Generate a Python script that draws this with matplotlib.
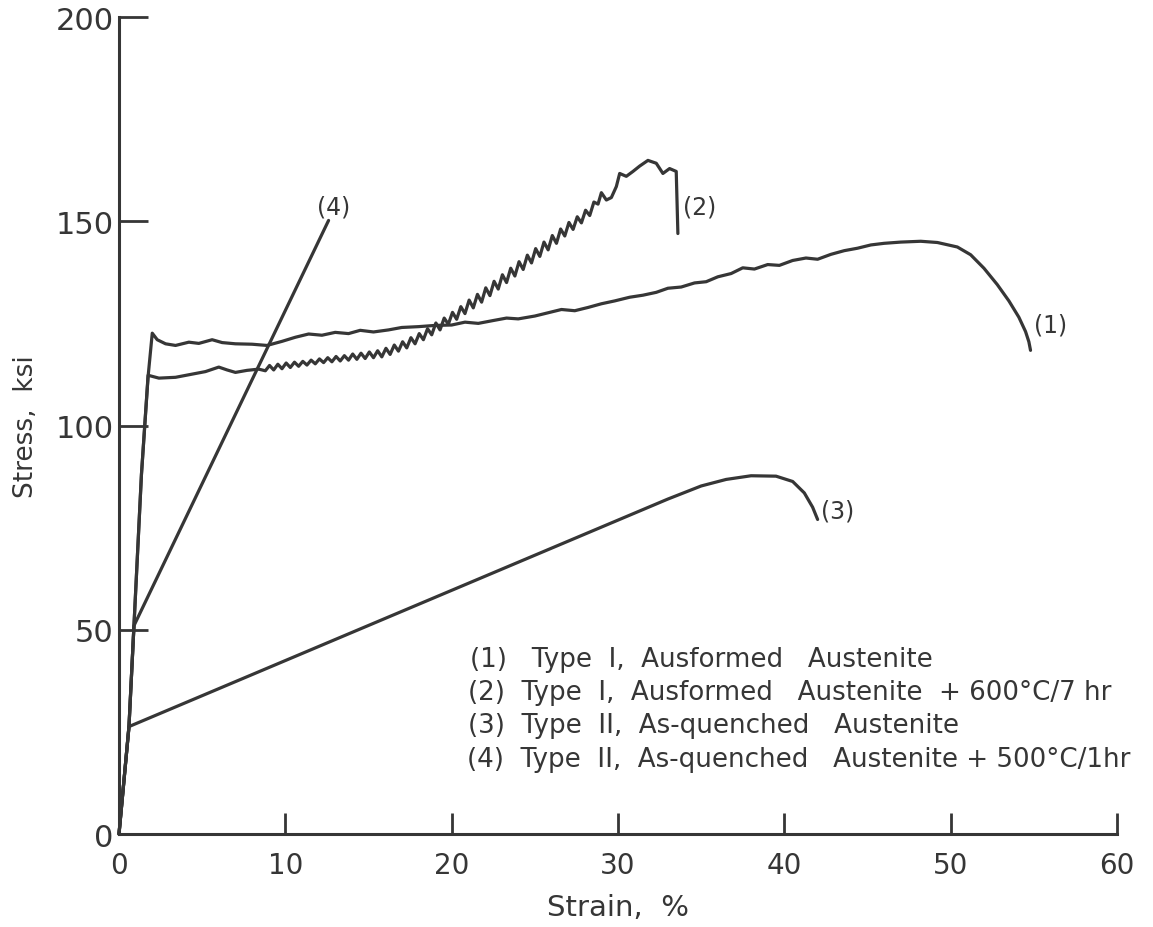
import matplotlib
matplotlib.use("Agg")
import matplotlib.pyplot as plt

# curve (1): Type I, ausformed austenite
strain_1 = [0, 0.6, 0.9, 1.35, 1.75, 2.0, 2.3, 2.8, 3.4, 4.2, 4.8, 5.6, 6.2, 7.0, 8.0, 8.9,
            9.8, 10.6, 11.4, 12.2, 13.0, 13.8, 14.5, 15.3, 16.2, 17.0, 18.0, 19.0, 20.0,
            20.8, 21.6, 22.5, 23.3, 24.0, 25.0, 26.0, 26.6, 27.4, 28.2, 29.0, 29.8, 30.7,
            31.5, 32.3, 33.0, 33.8, 34.6, 35.3, 36.0, 36.8, 37.5, 38.2, 39.0, 39.7, 40.5,
            41.3, 42.0, 42.8, 43.6, 44.4, 45.2, 46.0, 47.0, 48.2, 49.2, 50.4, 51.2, 52.0,
            52.8, 53.5, 54.1, 54.5, 54.7, 54.8]
stress_1 = [0, 26.3, 51, 88, 112, 122.6, 121, 120, 119.6, 120.4, 120.1, 121, 120.3, 120, 119.9, 119.6,
            120.6, 121.6, 122.4, 122.1, 122.8, 122.5, 123.3, 122.9, 123.4, 124, 124.2, 124.5, 124.6,
            125.3, 125, 125.7, 126.3, 126.1, 126.8, 127.8, 128.4, 128.1, 128.9, 129.8, 130.5, 131.4,
            131.9, 132.6, 133.6, 133.9, 134.9, 135.2, 136.4, 137.2, 138.6, 138.3, 139.4, 139.2, 140.4,
            141, 140.7, 141.9, 142.8, 143.4, 144.2, 144.6, 144.9, 145.1, 144.8, 143.7, 141.8, 138.5,
            134.5, 130.5, 126.5, 123, 120.5, 118.4]

# curve (2): Type I, ausformed austenite + 600C/7hr (serrated flow)
strain_2 = [0, 0.6, 0.9, 1.35, 1.75, 2.4, 3.4, 4.3, 5.2, 6.0, 6.5, 7.0, 7.7, 8.4,
            8.8, 9.05, 9.3, 9.55, 9.8, 10.05, 10.3, 10.55, 10.8, 11.05, 11.3, 11.55, 11.8,
            12.05, 12.3, 12.55, 12.8, 13.05, 13.3, 13.55, 13.8, 14.05, 14.3, 14.55, 14.8,
            15.05, 15.3, 15.55, 15.8, 16.05, 16.3, 16.55, 16.8, 17.05, 17.3, 17.55, 17.8,
            18.05, 18.3, 18.55, 18.8, 19.05, 19.3, 19.55, 19.8, 20.05, 20.3, 20.55, 20.8,
            21.05, 21.3, 21.55, 21.8, 22.05, 22.3, 22.55, 22.8, 23.05, 23.3, 23.55, 23.8,
            24.05, 24.3, 24.55, 24.8, 25.05, 25.3, 25.55, 25.8, 26.05, 26.3, 26.55, 26.8,
            27.05, 27.3, 27.55, 27.8, 28.05, 28.3, 28.55, 28.8, 29.0, 29.3, 29.6, 29.9,
            30.1, 30.5, 30.9, 31.3, 31.8, 32.3, 32.7, 33.1, 33.5, 33.6]
stress_2 = [0, 26.3, 51, 88, 112.3, 111.6, 111.8, 112.5, 113.2, 114.3, 113.6, 113, 113.5, 113.8,
            113.4, 114.7, 113.6, 115.0, 113.9, 115.3, 114.2, 115.5, 114.5, 115.7, 114.8, 116.0, 115.1,
            116.3, 115.4, 116.6, 115.6, 116.9, 115.8, 117.1, 116.0, 117.5, 116.2, 117.7, 116.4,
            118.0, 116.6, 118.3, 116.8, 118.9, 117.4, 119.7, 118.2, 120.5, 119.0, 121.5, 120.0,
            122.5, 121.0, 123.7, 122.2, 125.1, 123.4, 126.3, 124.8, 127.7, 126.0, 129.1, 127.4,
            130.7, 128.8, 132.1, 130.2, 133.7, 131.8, 135.3, 133.4, 136.9, 135.0, 138.5, 136.6,
            140.1, 138.2, 141.7, 139.8, 143.3, 141.4, 144.9, 143.0, 146.5, 144.6, 148.1, 146.4,
            149.7, 148.0, 151.1, 149.6, 152.7, 151.4, 154.7, 154.2, 157.0, 155.2, 155.8, 158.5,
            161.7, 161.0, 162.2, 163.5, 164.9, 164.2, 161.7, 162.9, 162.2, 147.0]

# curve (3): Type II, as-quenched austenite
strain_3 = [0, 0.6, 33.0, 35.0, 36.5, 38.0, 39.5, 40.5, 41.2, 41.7, 42.0]
stress_3 = [0, 26.3, 82.0, 85.2, 86.8, 87.7, 87.6, 86.3, 83.5, 80.0, 77.0]

# curve (4): Type II, as-quenched austenite + 500C/1hr
strain_4 = [0, 0.6, 0.9, 12.6]
stress_4 = [0, 26.3, 51, 150.2]

curve_labels = ["(1)", "(2)", "(3)", "(4)"]
label_pos = [(55.0, 124.8), (33.9, 153.5), (42.2, 79.1), (12.9, 153.5)]

legend_lines = [
    "(1)   Type  I,  Ausformed   Austenite",
    "(2)  Type  I,  Ausformed   Austenite  + 600\u00b0C/7 hr",
    "(3)  Type  II,  As-quenched   Austenite",
    "(4)  Type  II,  As-quenched   Austenite + 500\u00b0C/1hr",
]
legend_pos = [(21.1, 42.8), (21.0, 34.7), (21.0, 26.7), (20.9, 18.4)]

ink = "#363636"
plt.rcParams['font.family'] = ['DejaVu Sans']

fig = plt.figure(figsize=(11.53, 9.28), dpi=100)
ax = fig.add_axes([0.1032, 0.1002, 0.8656, 0.8804])

for xs, ys in [(strain_1, stress_1), (strain_2, stress_2), (strain_3, stress_3), (strain_4, stress_4)]:
    ax.plot(xs, ys, color=ink, lw=2.3, solid_joinstyle='round', solid_capstyle='round', clip_on=False)

ha_list = ['left', 'left', 'left', 'center']
for lab, (lx, ly), ha in zip(curve_labels, label_pos, ha_list):
    ax.text(lx, ly, lab, fontsize=17, color=ink, ha=ha, va='center')

for line, (lx, ly) in zip(legend_lines, legend_pos):
    ax.text(lx, ly, line, fontsize=18.8, color=ink, ha='left', va='center')

ax.set_xlim(0, 60)
ax.set_ylim(0, 200)
ax.set_xticks([0, 10, 20, 30, 40, 50, 60])
ax.set_yticks([0, 50, 100, 150, 200])
ax.tick_params(axis='x', direction='in', length=15, width=2, color=ink, labelsize=20,
               labelcolor=ink, pad=12)
ax.tick_params(axis='y', direction='in', length=21, width=2, color=ink, labelsize=22,
               labelcolor=ink, pad=4)
for side in ['top', 'right']:
    ax.spines[side].set_visible(False)
for side in ['left', 'bottom']:
    ax.spines[side].set_color(ink)
    ax.spines[side].set_linewidth(2.2)

ax.set_xlabel("Strain,  %", fontsize=21, color=ink, labelpad=10)
ax.set_ylabel("Stress,  ksi", fontsize=19, color=ink, labelpad=12)

fig.savefig("out.png", dpi=100)
